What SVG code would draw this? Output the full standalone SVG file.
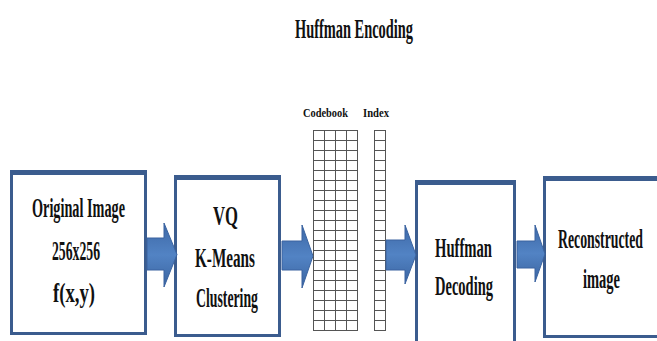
<svg xmlns="http://www.w3.org/2000/svg" width="657" height="341" viewBox="0 0 657 341">
<defs>
<linearGradient id="ag" x1="0" y1="0" x2="0" y2="1">
<stop offset="0" stop-color="#3D68A6"/>
<stop offset="0.5" stop-color="#5283C4"/>
<stop offset="1" stop-color="#3A64A0"/>
</linearGradient>
<style>
.box{fill:#fff;stroke:#3B5C8E;stroke-width:3}
.top{stroke:#3B5C8E;stroke-width:5}
.t{font-family:"Liberation Serif",serif;font-weight:bold;font-size:28px;fill:#111;text-anchor:middle}
.s{font-family:"Liberation Serif",serif;font-weight:bold;font-size:12px;fill:#111}
.arrow{fill:url(#ag);stroke:#3A63A0;stroke-width:1}
.g{fill:#fff;stroke:#555;stroke-width:1}
.gl{stroke:#555;stroke-width:1}
</style>
</defs>
<rect width="657" height="341" fill="#fff"/>
<text class="t" x="354" y="38" font-size="28" textLength="118" lengthAdjust="spacingAndGlyphs">Huffman Encoding</text>

<g id="original">
<rect class="box" x="11.5" y="172.5" width="134" height="161"/>
<line class="top" x1="10" y1="172.5" x2="147" y2="172.5"/>
<text class="t" x="78.5" y="217" textLength="93" lengthAdjust="spacingAndGlyphs">Original Image</text>
<text class="t" x="76" y="260" textLength="48" lengthAdjust="spacingAndGlyphs">256x256</text>
<text class="t" x="74" y="302" textLength="42" lengthAdjust="spacingAndGlyphs">f(x,y)</text>
</g>

<g id="vq">
<rect class="box" x="175.5" y="177.5" width="104" height="158"/>
<line class="top" x1="174" y1="177.5" x2="281" y2="177.5"/>
<text class="t" x="225.5" y="225" textLength="25" lengthAdjust="spacingAndGlyphs">VQ</text>
<text class="t" x="225" y="267" textLength="60" lengthAdjust="spacingAndGlyphs">K-Means</text>
<text class="t" x="227" y="307" textLength="62" lengthAdjust="spacingAndGlyphs">Clustering</text>
</g>

<g id="codebook">
<text class="s" x="303" y="117" textLength="45" lengthAdjust="spacingAndGlyphs">Codebook</text>
<rect class="g" x="313.5" y="130.5" width="44" height="200"/>
<path class="gl" d="M324.5 130.5V330.5M335.5 130.5V330.5M346.5 130.5V330.5
M313.5 140.5H357.5M313.5 150.5H357.5M313.5 160.5H357.5M313.5 170.5H357.5M313.5 180.5H357.5M313.5 190.5H357.5M313.5 200.5H357.5M313.5 210.5H357.5M313.5 220.5H357.5M313.5 230.5H357.5M313.5 240.5H357.5M313.5 250.5H357.5M313.5 260.5H357.5M313.5 270.5H357.5M313.5 280.5H357.5M313.5 290.5H357.5M313.5 300.5H357.5M313.5 310.5H357.5M313.5 320.5H357.5"/>
</g>

<g id="index">
<text class="s" x="363" y="117" textLength="26" lengthAdjust="spacingAndGlyphs">Index</text>
<rect class="g" x="374.5" y="130.5" width="11" height="200"/>
<path class="gl" d="M374.5 140.5H385.5M374.5 150.5H385.5M374.5 160.5H385.5M374.5 170.5H385.5M374.5 180.5H385.5M374.5 190.5H385.5M374.5 200.5H385.5M374.5 210.5H385.5M374.5 220.5H385.5M374.5 230.5H385.5M374.5 240.5H385.5M374.5 250.5H385.5M374.5 260.5H385.5M374.5 270.5H385.5M374.5 280.5H385.5M374.5 290.5H385.5M374.5 300.5H385.5M374.5 310.5H385.5M374.5 320.5H385.5"/>
</g>

<g id="huffman-decoding">
<rect class="box" x="416.5" y="182.5" width="98" height="170"/>
<line class="top" x1="415" y1="182.5" x2="516" y2="182.5"/>
<text class="t" x="463.5" y="257" textLength="57" lengthAdjust="spacingAndGlyphs">Huffman</text>
<text class="t" x="464" y="295" textLength="58" lengthAdjust="spacingAndGlyphs">Decoding</text>
</g>

<g id="reconstructed">
<rect class="box" x="544.5" y="178.5" width="130" height="158"/>
<line class="top" x1="543" y1="178.5" x2="657" y2="178.5"/>
<text class="t" x="600.5" y="248" textLength="85" lengthAdjust="spacingAndGlyphs">Reconstructed</text>
<text class="t" x="601.5" y="288" textLength="37" lengthAdjust="spacingAndGlyphs">image</text>
</g>

<g id="connectors">
<polygon class="arrow" points="147,238 164,238 164,223 177,254.5 164,287 164,270 147,270"/>
<polygon class="arrow" points="282,241 302,241 302,225 313,256 302,288 302,270 282,270"/>
<polygon class="arrow" points="386,240 405,240 405,225 416,255 405,284 405,270 386,270"/>
<polygon class="arrow" points="517,241 535,241 535,225 545,254 535,282 535,268 517,268"/>
</g>
</svg>
